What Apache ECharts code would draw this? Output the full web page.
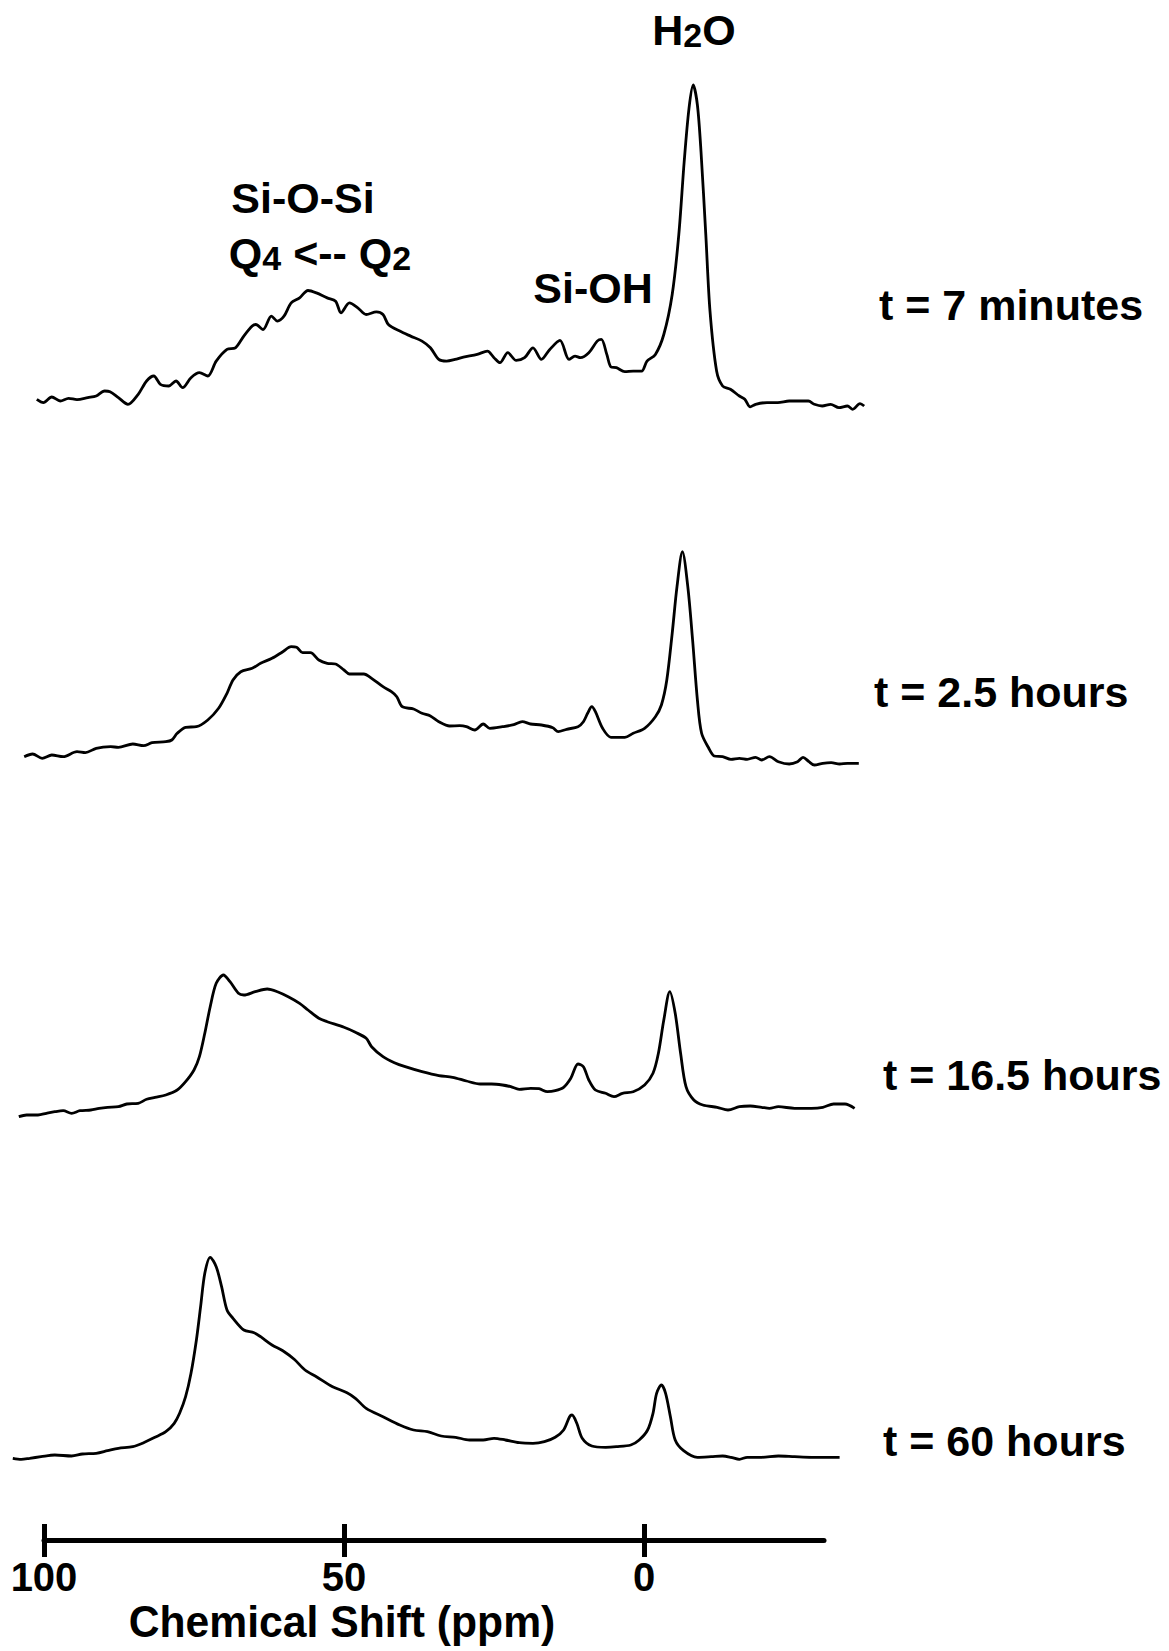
<!DOCTYPE html>
<html>
<head>
<meta charset="utf-8">
<script src="https://cdn.jsdelivr.net/npm/echarts@6/dist/echarts.min.js"></script>
<style>
  html, body { margin: 0; padding: 0; background: #fff; }
  #chart { width: 1169px; height: 1651px; }
</style>
</head>
<body>
<div id="chart"></div>
<script>
// 29Si / 1H NMR spectra, [chemical shift (ppm), intensity]
const spec7min = [
  [101.2,10.7],[100.1,7.4],[98.7,13.0],[97.3,9.0],[95.9,11.7],[94.5,10.4],[92.7,12.4],[91.3,14.0],
  [89.9,19.0],[89.0,18.3],[87.6,12.4],[86.0,5.7],[84.3,15.7],[82.9,29.0],[81.7,34.0],[80.6,25.7],
  [79.2,24.0],[78.0,29.0],[76.9,22.3],[75.5,32.3],[74.1,37.3],[72.7,34.0],[71.3,48.9],[69.5,60.6],
  [68.1,62.2],[66.7,73.9],[65.3,83.9],[64.7,85.5],[63.5,80.5],[62.1,93.8],[61.1,88.9],[60.0,93.8],
  [58.8,107.1],[57.4,112.1],[56.0,119.5],[54.6,117.1],[52.8,112.1],[51.4,108.8],[50.5,97.2],
  [49.1,107.1],[47.7,102.2],[46.3,95.5],[44.6,98.2],[43.5,95.5],[42.6,85.5],[40.7,78.9],[38.9,73.9],
  [37.0,68.9],[35.6,62.2],[34.2,50.6],[32.9,48.9],[31.5,50.6],[30.1,52.9],[27.8,55.6],[26.1,58.9],
  [25.0,52.3],[24.0,47.3],[22.7,57.3],[21.3,49.6],[19.9,52.3],[18.5,62.2],[17.1,50.6],[15.7,60.6],
  [14.0,69.6],[12.5,50.6],[11.5,53.9],[10.6,52.3],[9.2,57.3],[7.8,68.9],[7.1,70.6],[6.2,55.6],
  [5.5,43.0],[4.6,42.3],[3.2,38.3],[1.8,38.9],[0.4,38.9],[-0.5,48.9],[-1.9,55.6],[-3.3,75.5],
  [-4.7,115.5],[-5.8,175.3],[-6.7,248.5],[-7.5,301.7],[-8.2,325.0],[-8.9,305.0],[-9.5,258.5],
  [-10.3,175.3],[-11.0,98.8],[-12.1,38.9],[-13.1,24.0],[-14.4,20.7],[-15.9,14.0],[-16.8,10.7],
  [-17.7,3.1],[-18.6,5.7],[-20.5,7.4],[-22.3,7.4],[-24.2,9.0],[-26.0,9.0],[-27.4,9.0],[-28.4,5.7],
  [-29.7,4.0],[-31.1,5.7],[-32.5,2.4],[-33.9,4.0],[-34.8,0.7],[-36.0,6.4],[-36.7,4.0]
];

const spec2_5h = [
  [103.3,13.3],[101.9,16.0],[100.3,11.7],[98.7,15.0],[96.8,13.3],[94.5,18.3],[93.1,17.3],[91.3,21.7],
  [88.9,23.3],[87.6,22.7],[85.2,26.0],[83.4,24.3],[82.0,27.3],[79.7,28.3],[78.7,30.0],[77.8,36.7],
  [76.4,42.7],[74.6,43.3],[72.7,50.0],[70.9,61.7],[69.5,76.7],[68.5,90.0],[67.2,98.3],[65.3,101.7],
  [63.9,106.7],[62.0,111.7],[60.2,118.3],[58.8,123.3],[57.9,122.7],[56.9,117.3],[55.6,117.3],
  [54.2,110.0],[52.8,106.7],[51.4,106.0],[50.0,100.0],[49.1,96.0],[46.7,96.0],[45.4,91.7],[43.5,83.3],
  [42.1,78.3],[41.2,73.3],[40.3,63.3],[38.4,61.0],[37.0,56.7],[35.6,54.0],[34.2,48.3],[32.4,44.0],
  [30.7,44.3],[29.6,43.3],[28.2,40.0],[26.8,46.0],[25.7,41.7],[23.6,43.3],[21.7,45.3],[20.3,48.3],
  [18.9,46.0],[17.1,45.0],[15.2,42.3],[14.3,38.3],[12.9,40.7],[11.0,43.3],[10.1,48.3],[9.4,56.7],
  [8.7,63.3],[8.1,58.3],[6.9,41.7],[5.5,32.7],[3.2,32.7],[1.8,36.7],[-0.1,41.7],[-1.9,53.3],
  [-2.9,65.0],[-3.8,90.0],[-4.7,136.7],[-5.5,183.3],[-6.4,218.3],[-7.3,183.3],[-8.1,130.0],
  [-8.9,70.0],[-9.6,36.7],[-10.8,21.7],[-11.7,14.0],[-13.1,13.3],[-14.5,10.7],[-15.9,11.7],
  [-17.2,10.7],[-18.6,12.7],[-19.6,10.0],[-20.9,13.3],[-22.4,8.3],[-24.2,6.0],[-25.6,8.3],[-26.5,12.7],
  [-27.5,8.3],[-28.4,5.0],[-29.8,6.7],[-31.2,7.3],[-32.6,6.0],[-33.9,6.7],[-35.8,6.7]
];

const spec16_5h = [
  [104.2,8.3],[102.9,10.0],[101.0,10.0],[99.6,11.7],[98.2,13.3],[96.8,14.3],[95.4,11.7],[94.0,14.3],
  [92.2,15.0],[90.8,16.7],[89.4,17.7],[87.6,18.3],[86.2,21.0],[84.3,21.7],[82.9,25.7],[81.5,27.7],
  [79.7,30.0],[77.8,35.0],[76.4,43.3],[75.0,55.0],[74.1,68.3],[73.2,91.7],[72.3,118.3],[71.3,141.7],
  [70.1,150.0],[69.0,143.3],[67.6,131.7],[66.7,130.0],[64.8,133.3],[62.8,136.0],[61.1,133.3],
  [59.3,128.3],[57.4,121.7],[56.0,115.0],[54.2,106.7],[52.8,103.3],[50.0,97.7],[48.1,92.7],[46.3,86.7],
  [45.4,78.3],[43.5,68.3],[41.6,62.3],[39.8,58.3],[37.0,53.3],[34.2,49.3],[31.9,47.7],[29.6,44.0],
  [27.3,41.0],[25.4,41.0],[23.6,40.0],[22.2,38.3],[20.8,35.7],[18.9,36.7],[17.5,36.3],[16.1,33.3],
  [14.8,34.3],[13.4,37.7],[12.2,46.7],[11.0,61.0],[10.1,58.3],[9.2,45.0],[8.1,35.0],[6.4,31.7],
  [5.0,28.3],[3.6,31.7],[1.8,33.3],[-0.1,40.0],[-1.5,51.7],[-2.4,71.7],[-3.3,105.0],[-4.3,133.3],
  [-5.2,111.7],[-6.1,71.7],[-7.0,38.3],[-8.3,25.0],[-9.8,20.0],[-12.2,17.7],[-14.0,15.0],[-15.9,18.3],
  [-17.7,19.0],[-19.6,17.7],[-20.9,16.7],[-22.4,18.3],[-25.1,16.7],[-27.9,16.7],[-29.8,17.7],
  [-31.6,21.0],[-33.5,21.0],[-35.1,16.7]
];

const spec60h = [
  [105.2,11.7],[103.8,10.7],[102.4,11.7],[100.5,13.3],[98.2,15.0],[95.4,14.0],[93.6,16.0],[91.3,16.7],
  [89.4,19.3],[87.6,21.7],[85.2,23.3],[83.4,27.3],[81.5,32.7],[79.7,38.3],[78.3,46.7],[77.4,56.7],
  [76.4,73.3],[75.5,96.7],[74.6,130.0],[73.9,163.3],[73.2,196.7],[72.3,212.7],[71.3,203.3],[70.4,183.3],
  [69.5,160.0],[68.5,151.7],[66.7,140.0],[65.0,137.3],[63.9,133.3],[62.0,125.0],[60.2,119.3],
  [58.3,110.7],[56.5,100.0],[54.6,93.3],[51.9,83.3],[49.5,77.3],[48.1,71.7],[46.3,61.7],[43.5,53.3],
  [40.7,45.0],[38.4,40.0],[36.1,38.3],[33.8,34.0],[31.4,32.7],[29.1,30.0],[26.8,30.0],[25.0,31.7],
  [23.1,30.0],[20.8,27.3],[18.5,26.7],[16.6,28.3],[14.8,32.7],[13.4,40.0],[12.4,53.3],[12.0,55.0],
  [11.2,46.7],[10.3,31.7],[8.7,24.0],[6.4,22.7],[4.6,23.3],[2.2,25.0],[0.8,30.0],[-0.6,40.0],
  [-1.5,56.7],[-2.1,76.7],[-2.9,85.0],[-3.6,76.7],[-4.4,53.3],[-5.2,30.0],[-6.6,19.3],[-8.9,12.7],
  [-11.2,13.3],[-13.1,14.0],[-14.5,12.7],[-15.9,10.7],[-17.2,12.7],[-19.6,12.7],[-22.4,14.0],
  [-25.1,13.3],[-27.9,12.7],[-30.7,12.7],[-32.6,12.7]
];

const spectra = [spec7min, spec2_5h, spec16_5h, spec60h];
const timeLabels = ['t = 7 minutes', 't = 2.5 hours', 't = 16.5 hours', 't = 60 hours'];
const tickValues = [100, 50, 0];
const axisTitle = 'Chemical Shift (ppm)';

const FONT = '"Liberation Sans", Arial, Helvetica, sans-serif';
const INK = '#000';

// stacked panels, one per spectrum; each shares the same ppm scale (6 px per ppm)
const panelTops = [70, 430, 785, 1130];
const panelHeight = 340;
const labelPos = [[879, 305], [874, 692], [883, 1075], [883, 1441]];

const grid = [];
const xAxis = [];
const yAxis = [];
const series = [];

spectra.forEach((data, i) => {
  grid.push({ left: 8, width: 876, top: panelTops[i], height: panelHeight, outerBoundsMode: 'none' });
  xAxis.push({ type: 'value', gridIndex: i, min: -40, max: 106, inverse: true, show: false });
  yAxis.push({ type: 'value', gridIndex: i, min: 0, max: panelHeight, show: false });
  series.push({
    type: 'line', xAxisIndex: i, yAxisIndex: i, data: data,
    showSymbol: false, smooth: 0.3, silent: true, animation: false,
    lineStyle: { color: INK, width: 2.8 }
  });
});

// shared chemical shift scale at the bottom (ticks cross the axis line)
const scaleGrid = { left: 44, width: 780, top: 1500, height: 40, outerBoundsMode: 'none' };
grid.push(Object.assign({}, scaleGrid));
grid.push(Object.assign({}, scaleGrid));
xAxis.push({
  type: 'value', gridIndex: 4, min: -30, max: 100, inverse: true, position: 'bottom',
  axisLine: { show: true, lineStyle: { color: INK, width: 5 } },
  axisTick: { show: true, customValues: tickValues, length: 17, lineStyle: { color: INK, width: 5 } },
  axisLabel: { show: true, customValues: tickValues, margin: 19, color: INK,
               fontSize: 40, lineHeight: 36, fontWeight: 'bold', fontFamily: FONT },
  splitLine: { show: false }
});
xAxis.push({
  type: 'value', gridIndex: 5, min: -30, max: 100, inverse: true, position: 'bottom',
  axisLine: { show: false },
  axisTick: { show: true, inside: true, customValues: tickValues, length: 16, lineStyle: { color: INK, width: 5 } },
  axisLabel: { show: false },
  splitLine: { show: false }
});
yAxis.push({ type: 'value', gridIndex: 4, show: false });
yAxis.push({ type: 'value', gridIndex: 5, show: false });

const textStyle = { fill: INK, fontSize: 43, fontWeight: 'bold', fontFamily: FONT };
const richStyle = {
  m: { fontSize: 43, lineHeight: 43, fontWeight: 'bold', fontFamily: FONT, fill: INK, color: INK },
  s: { fontSize: 34, lineHeight: 8, verticalAlign: 'bottom', fontWeight: 'bold', fontFamily: FONT, fill: INK, color: INK }
};

const graphic = [];
timeLabels.forEach((t, i) => {
  graphic.push({ type: 'text', x: labelPos[i][0], y: labelPos[i][1],
    style: Object.assign({ text: t, align: 'left', verticalAlign: 'middle' }, textStyle) });
});
graphic.push({ type: 'text', x: 694, y: 30,
  style: { text: '{m|H}{s|2}{m|O}', rich: richStyle, align: 'center', verticalAlign: 'middle' } });
graphic.push({ type: 'text', x: 303, y: 198,
  style: Object.assign({ text: 'Si-O-Si', align: 'center', verticalAlign: 'middle' }, textStyle) });
graphic.push({ type: 'text', x: 320, y: 253,
  style: { text: '{m|Q}{s|4}{m| <-- Q}{s|2}', rich: richStyle, align: 'center', verticalAlign: 'middle' } });
graphic.push({ type: 'text', x: 593, y: 288,
  style: Object.assign({ text: 'Si-OH', align: 'center', verticalAlign: 'middle' }, textStyle) });
graphic.push({ type: 'text', x: 342, y: 1622, scaleX: 0.97,
  style: { text: axisTitle, align: 'center', verticalAlign: 'middle', fill: INK,
           fontSize: 44, lineHeight: 34, fontWeight: 'bold', fontFamily: FONT } });

const chart = echarts.init(document.getElementById('chart'), null, { renderer: 'svg' });
chart.setOption({
  backgroundColor: '#fff',
  animation: false,
  grid, xAxis, yAxis, series, graphic
});
</script>
</body>
</html>
